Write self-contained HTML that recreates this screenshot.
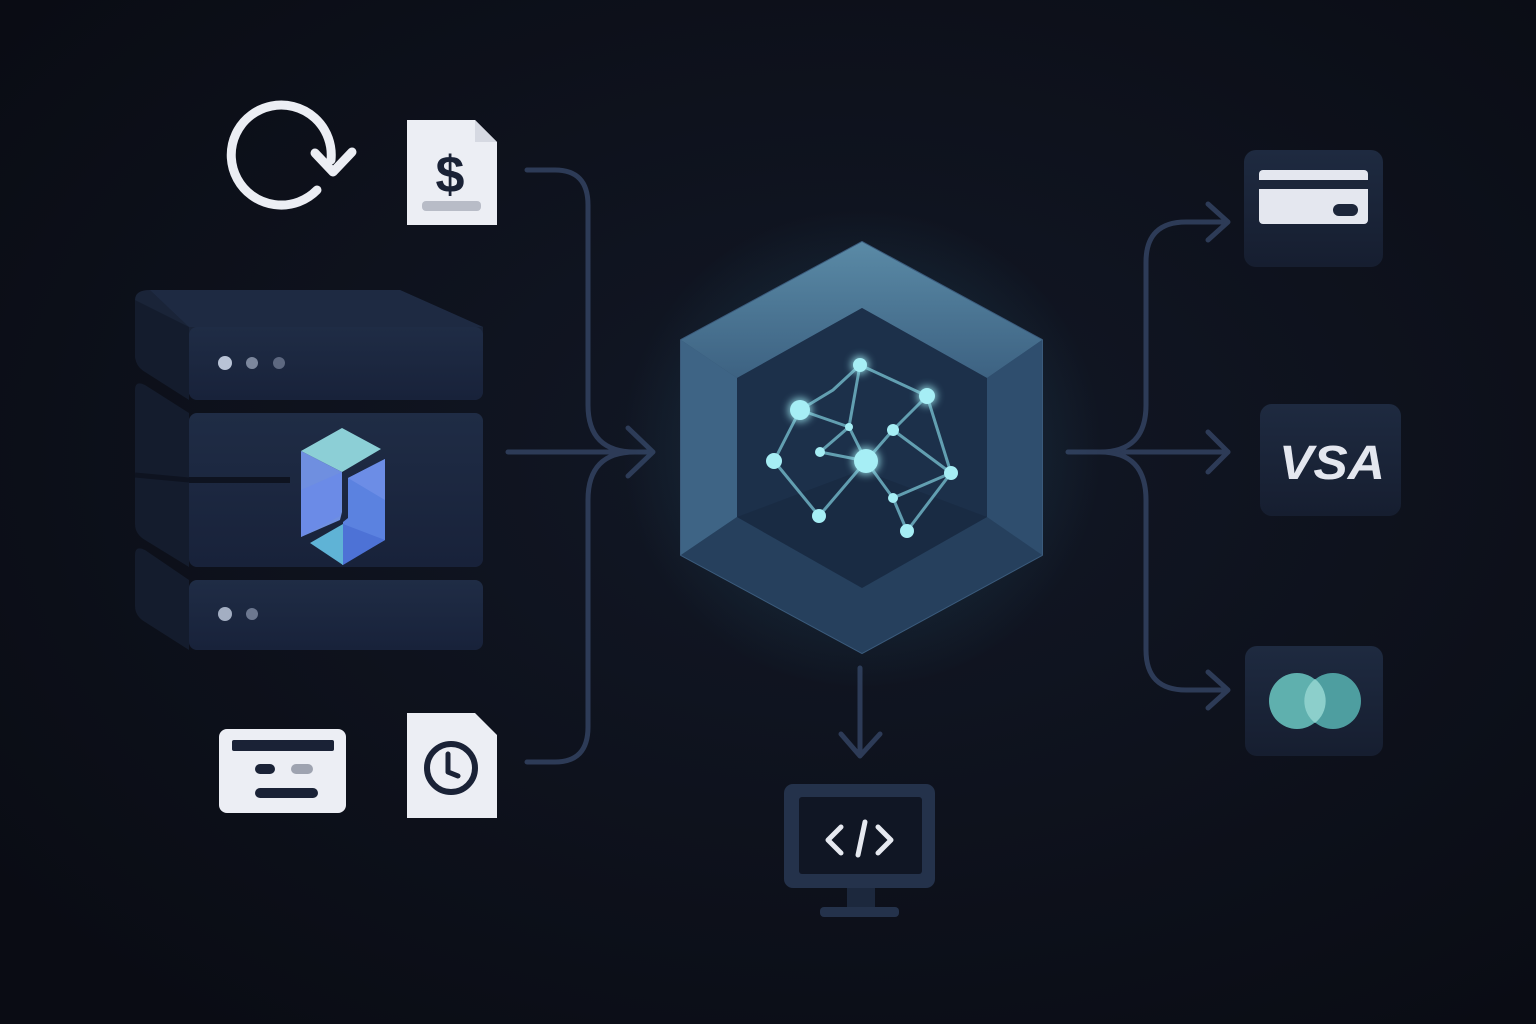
<!DOCTYPE html>
<html><head><meta charset="utf-8"><style>
html,body{margin:0;padding:0;background:#0c0f18;}
svg{display:block}
</style></head><body>
<svg width="1536" height="1024" viewBox="0 0 1536 1024" xmlns="http://www.w3.org/2000/svg">
<defs>
<radialGradient id="bg" cx="0.55" cy="0.45" r="0.7">
<stop offset="0" stop-color="#121826"/><stop offset="1" stop-color="#0a0c14"/>
</radialGradient>
<radialGradient id="glow" cx="0.5" cy="0.5" r="0.5">
<stop offset="0" stop-color="#3a8fb0" stop-opacity="0.3"/><stop offset="1" stop-color="#3a8fb0" stop-opacity="0"/>
</radialGradient>
<linearGradient id="hexTop" x1="0" y1="0" x2="0" y2="1">
<stop offset="0" stop-color="#5a8aa6"/><stop offset="1" stop-color="#3d6282"/>
</linearGradient>
<linearGradient id="slab" x1="0" y1="0" x2="0" y2="1">
<stop offset="0" stop-color="#1f2c45"/><stop offset="1" stop-color="#18223a"/>
</linearGradient>
<linearGradient id="box" x1="0" y1="0" x2="0" y2="1">
<stop offset="0" stop-color="#1e2a40"/><stop offset="1" stop-color="#161e30"/>
</linearGradient>
<filter id="blur"><feGaussianBlur stdDeviation="4"/></filter>
</defs>
<rect width="1536" height="1024" fill="url(#bg)"/>

<!-- connectors -->
<g fill="none" stroke="#2d3b57" stroke-width="5" stroke-linecap="round" stroke-linejoin="round">
<path d="M527,170 H555 Q588,170 588,205 V405 Q588,452 635,452"/>
<path d="M527,762 H555 Q588,762 588,727 V500 Q588,452 635,452"/>
<path d="M508,452 H650"/>
<path d="M628,428 L653,452 L628,476"/>
<path d="M1068,452 H1228"/>
<path d="M1208,432 L1228,452 L1208,472"/>
<path d="M1100,452 Q1146,452 1146,405 V262 Q1146,222 1186,222 H1226"/>
<path d="M1208,204 L1228,222 L1208,240"/>
<path d="M1100,452 Q1146,452 1146,500 V650 Q1146,690 1186,690 H1226"/>
<path d="M1208,672 L1228,690 L1208,708"/>
<path d="M860,668 V754"/>
<path d="M841,734 L860,756 L880,734"/>
</g>

<!-- refresh -->
<g fill="none" stroke="#eceef4" stroke-width="9" stroke-linecap="round" stroke-linejoin="round">
<path d="M317,190 A50,50 0 1 1 331,160"/>
<path d="M315,153 L333,172 L352,152"/>
</g>

<!-- $ doc -->
<path d="M407,120 H475 L497,142 V225 H407 Z" fill="#eceef4"/>
<path d="M475,120 V142 H497 Z" fill="#d6d9e2"/>
<text x="450" y="192" text-anchor="middle" font-family="Liberation Sans, sans-serif" font-weight="bold" font-size="52" fill="#1a2236">$</text>
<rect x="422" y="201" width="59" height="10" rx="4" fill="#b8bcc7"/>

<!-- server stack -->
<g>
<path d="M135,300 Q135,290 150,290 H400 L483,327 V390 Q483,400 473,400 H200 L145,370 Q135,365 135,355 Z" fill="#1a2438"/>
<path d="M150,290 H400 L483,327 H189 Z" fill="#1e2a42"/>
<path d="M135,300 L189,327 V400 L145,372 Q135,366 135,355 Z" fill="#141c2d"/>
<rect x="189" y="327" width="294" height="73" rx="8" fill="url(#slab)"/>
<circle cx="225" cy="363" r="7" fill="#b9c3d6"/><circle cx="252" cy="363" r="6" fill="#7c879d"/><circle cx="279" cy="363" r="6" fill="#5d6880"/>

<path d="M135,390 Q135,380 145,385 L189,413 V567 L145,540 Q135,534 135,524 Z" fill="#141c2d"/>
<rect x="189" y="413" width="294" height="154" rx="8" fill="url(#slab)"/>
<path d="M189,480 H290" stroke="#0e1320" stroke-width="6"/>
<path d="M135,475 L189,480" stroke="#0e1320" stroke-width="5"/>

<path d="M135,555 Q135,545 145,550 L189,580 V650 L145,622 Q135,616 135,606 Z" fill="#141c2d"/>
<rect x="189" y="580" width="294" height="70" rx="8" fill="url(#slab)"/>
<circle cx="225" cy="614" r="7" fill="#a3aec2"/><circle cx="252" cy="614" r="6" fill="#6d7890"/>

<!-- logo -->
<polygon points="301,451 342,428 381,449 342,472" fill="#8ccfd6"/>
<polygon points="301,451 342,472 342,512 340,520 301,537" fill="#6f8fe0"/>
<polygon points="301,490 342,472 340,516 301,537" fill="#6a8ae8" opacity="0.8"/>
<polygon points="348,478 385,459 385,540 342,565 343,522 348,518" fill="#5b82e0"/>
<polygon points="348,478 385,459 385,500" fill="#6c8de6"/>
<polygon points="310,543 343,524 343,565" fill="#5fb3d6"/>
<polygon points="343,524 385,540 343,565" fill="#4d72d6"/>
</g>

<!-- bottom card -->
<rect x="219" y="729" width="127" height="84" rx="8" fill="#eceef4"/>
<rect x="232" y="740" width="102" height="11" rx="2" fill="#1a2236"/>
<rect x="255" y="764" width="20" height="10" rx="5" fill="#1a2236"/>
<rect x="291" y="764" width="22" height="10" rx="5" fill="#9ea3b0"/>
<rect x="255" y="788" width="63" height="10" rx="5" fill="#1a2236"/>

<!-- clock doc -->
<path d="M407,713 H475 L497,735 V818 H407 Z" fill="#eceef4"/>
<circle cx="451" cy="768" r="24" fill="none" stroke="#1a2236" stroke-width="6"/>
<path d="M448,754 V772 L458,776" fill="none" stroke="#1a2236" stroke-width="5" stroke-linecap="round" stroke-linejoin="round"/>

<!-- hexagon -->
<ellipse cx="862" cy="448" rx="240" ry="240" fill="url(#glow)"/>
<polygon points="862,242 1042,340 1042,555 862,653 681,555 681,340" fill="#2e4a68" stroke="#3b5b7c" stroke-width="2" stroke-linejoin="round"/>
<polygon points="862,242 1042,340 987,378 862,308 737,378 681,340" fill="url(#hexTop)"/>
<polygon points="681,340 737,378 737,517 681,555" fill="#3e6485"/>
<polygon points="1042,340 987,378 987,517 1042,555" fill="#2f4e6e"/>
<polygon points="681,555 737,517 862,588 987,517 1042,555 862,653" fill="#26405d"/>
<polygon points="862,308 987,378 987,517 862,588 737,517 737,378" fill="#1c304a"/>
<polygon points="737,517 862,588 987,517 862,470" fill="#172840" opacity="0.6"/>
<g stroke="#7ac4d4" stroke-width="3" stroke-opacity="0.75" fill="none">
<path d="M860,365 L833,390 L800,410"/><path d="M860,365 L849,427"/><path d="M860,365 L927,396"/>
<path d="M800,410 L849,427"/><path d="M800,410 L774,461"/><path d="M849,427 L866,461"/><path d="M849,427 L820,452"/>
<path d="M820,452 L866,461"/><path d="M774,461 L819,516"/><path d="M819,516 L866,461"/><path d="M866,461 L893,430"/>
<path d="M893,430 L927,396"/><path d="M893,430 L951,473"/><path d="M927,396 L951,473"/><path d="M866,461 L893,498"/>
<path d="M893,498 L951,473"/><path d="M893,498 L907,531"/><path d="M907,531 L951,473"/>
</g>
<g fill="#9ee8f0" filter="url(#blur)" opacity="0.8">
<circle cx="800" cy="410" r="12"/><circle cx="866" cy="461" r="14"/><circle cx="927" cy="396" r="10"/><circle cx="860" cy="365" r="9"/>
</g>
<g fill="#a6eef5">
<circle cx="860" cy="365" r="7"/><circle cx="800" cy="410" r="10"/><circle cx="927" cy="396" r="8"/><circle cx="849" cy="427" r="4"/>
<circle cx="893" cy="430" r="6"/><circle cx="820" cy="452" r="5"/><circle cx="866" cy="461" r="12"/><circle cx="774" cy="461" r="8"/>
<circle cx="951" cy="473" r="7"/><circle cx="893" cy="498" r="5"/><circle cx="819" cy="516" r="7"/><circle cx="907" cy="531" r="7"/>
</g>

<!-- monitor -->
<rect x="784" y="784" width="151" height="104" rx="9" fill="#24324b"/>
<rect x="799" y="797" width="123" height="77" rx="3" fill="#101624"/>
<rect x="847" y="888" width="28" height="19" fill="#1c283d"/>
<rect x="820" y="907" width="79" height="10" rx="4" fill="#24324b"/>
<g fill="none" stroke="#e6e9f0" stroke-width="5" stroke-linecap="round" stroke-linejoin="round">
<path d="M841,827 L828,840 L841,853"/><path d="M865,822 L858,855"/><path d="M878,827 L891,840 L878,853"/>
</g>

<!-- right boxes -->
<rect x="1244" y="150" width="139" height="117" rx="12" fill="url(#box)"/>
<rect x="1259" y="170" width="109" height="54" rx="4" fill="#e4e7ef"/>
<rect x="1259" y="180" width="109" height="9" fill="#1c263a"/>
<rect x="1333" y="204" width="25" height="12" rx="6" fill="#1c263a"/>

<rect x="1260" y="404" width="141" height="112" rx="12" fill="url(#box)"/>
<text x="1279" y="479" font-family="Liberation Sans, sans-serif" font-weight="bold" font-style="italic" font-size="48" fill="#e4e7ef" textLength="106" lengthAdjust="spacingAndGlyphs">VSA</text>

<rect x="1245" y="646" width="138" height="110" rx="12" fill="url(#box)"/>
<circle cx="1297" cy="701" r="28" fill="#5fb0ae"/>
<circle cx="1333" cy="701" r="28" fill="#4e9ea0"/>
<path d="M1315,679 A28,28 0 0 1 1315,723 A28,28 0 0 1 1315,679 Z" fill="#8ccfcb"/>
</svg>
</body></html>
